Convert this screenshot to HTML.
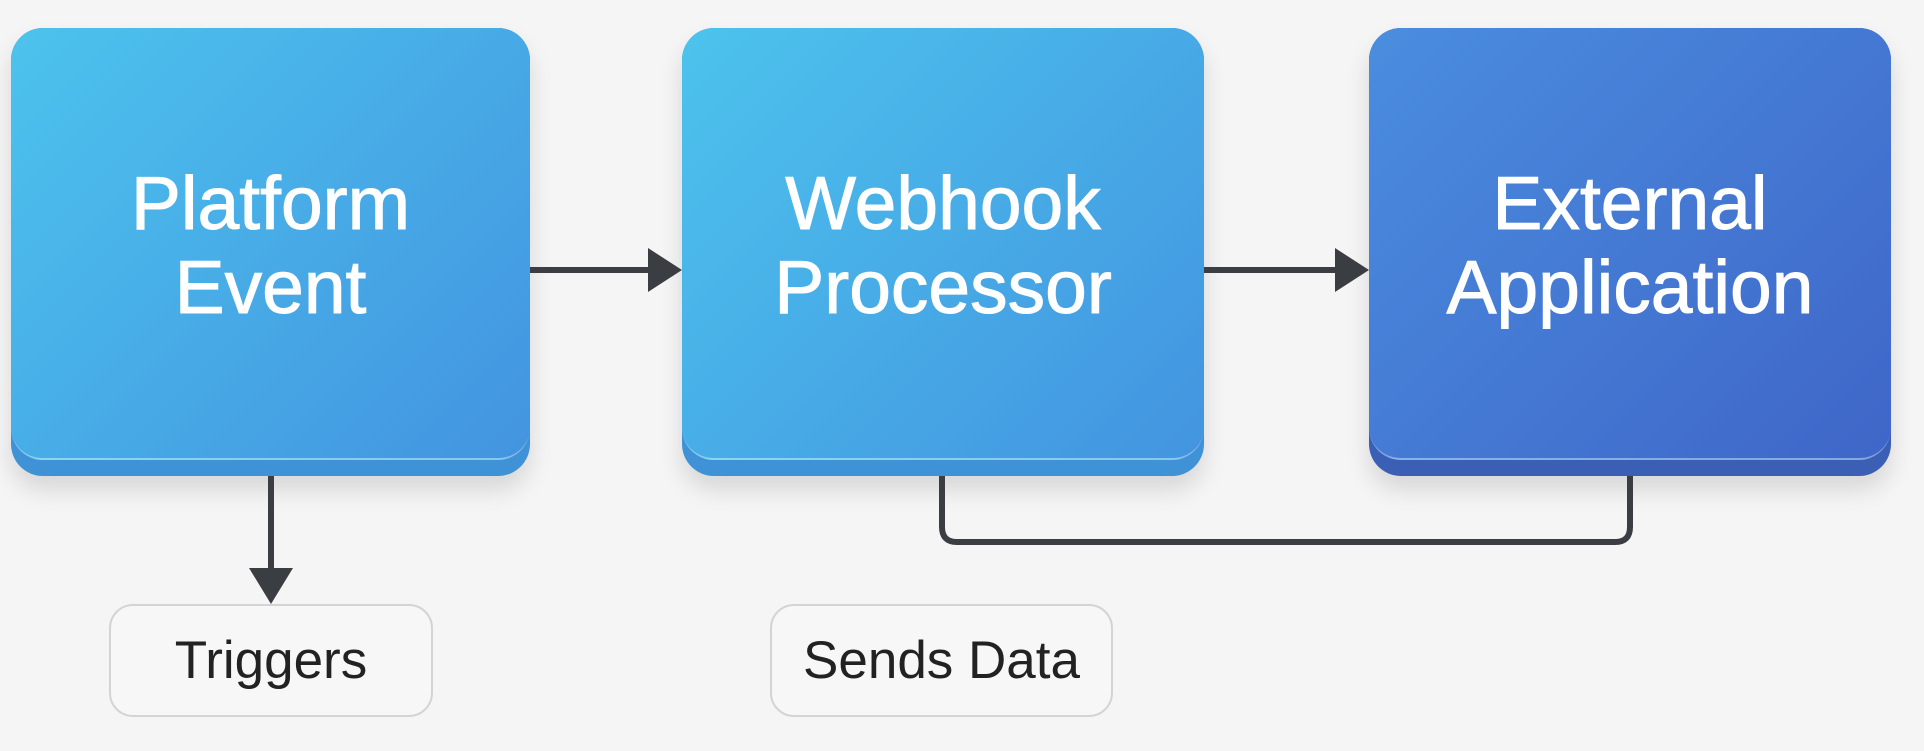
<!DOCTYPE html>
<html><head><meta charset="utf-8"><style>
body{margin:0;width:1924px;height:751px;background:#f5f5f5;position:relative;overflow:hidden;font-family:"Liberation Sans",sans-serif}
.box{position:absolute;top:28px;height:448px;border-radius:32px;box-shadow:0 14px 24px rgba(0,0,0,.12)}
.face{position:absolute;left:0;top:0;right:0;height:432px;border-radius:32px;border-bottom:2px solid rgba(255,255,255,.35);display:flex;align-items:center;justify-content:center;text-align:center;color:#fff;font-size:75px;line-height:84px;font-weight:500;padding-top:4px;box-sizing:border-box;-webkit-text-stroke:1px #fff}
.lbl{position:absolute;top:604px;height:113px;border:2px solid #d4d4d4;border-radius:24px;background:#f7f7f7;box-sizing:border-box;display:flex;align-items:center;justify-content:center;font-size:53px;color:#222}
</style></head><body>
<div class="box" style="left:11px;width:519px;background:#3f92d6"><div class="face" style="background:linear-gradient(135deg,#4cc3ed,#4394e0)">Platform<br>Event</div></div>
<div class="box" style="left:682px;width:522px;background:#3f92d6"><div class="face" style="background:linear-gradient(135deg,#4cc3ed,#4394e0)">Webhook<br>Processor</div></div>
<div class="box" style="left:1369px;width:522px;background:#3a5fb5"><div class="face" style="background:linear-gradient(135deg,#4a8ddf,#3f66c8)">External<br>Application</div></div>
<svg width="1924" height="751" style="position:absolute;left:0;top:0">
<g fill="#3a3d42" stroke="#3a3d42">
<line x1="530" y1="270" x2="650" y2="270" stroke-width="6"/><polygon points="648,248 682,270 648,292" stroke="none"/>
<line x1="1204" y1="270" x2="1337" y2="270" stroke-width="6"/><polygon points="1335,248 1369,270 1335,292" stroke="none"/>
<line x1="271" y1="476" x2="271" y2="570" stroke-width="6"/><polygon points="249,568 293,568 271,604" stroke="none"/>
<path d="M942 476 V527 Q942 542 957 542 H1615 Q1630 542 1630 527 V476" fill="none" stroke-width="6"/>
</g></svg>
<div class="lbl" style="left:109px;width:324px">Triggers</div>
<div class="lbl" style="left:770px;width:343px">Sends Data</div>
</body></html>
